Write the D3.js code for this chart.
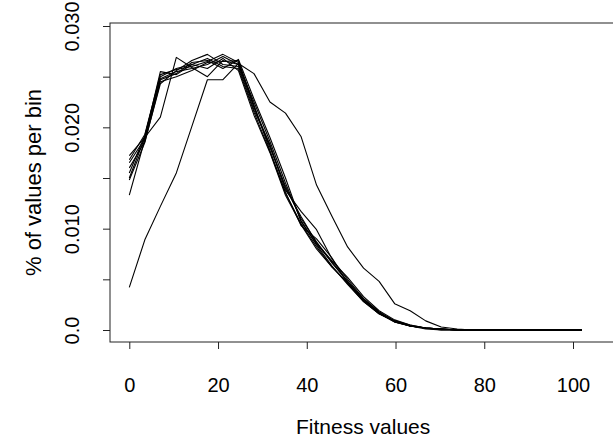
<!DOCTYPE html>
<html>
<head>
<meta charset="utf-8">
<script src="https://cdn.jsdelivr.net/npm/d3@7"></script>
<style>
  body { margin: 0; background: #fff; }
  svg text { font-family: "Liberation Sans", Arial, sans-serif; fill: #000; }
</style>
</head>
<body>
<div class="container"></div>
<script>
// ----- DATA -----
const bins = [0, 3.5, 7.0, 10.6, 14.1, 17.6, 21.1, 24.6, 28.1, 31.7, 35.2, 38.7, 42.2, 45.7, 49.2,
  52.8, 56.3, 59.8, 63.3, 66.8, 70.3, 73.9, 77.4, 80.9, 84.4, 87.9, 91.4, 95.0, 98.5, 102.0];

const run1 = [0.0172, 0.0190, 0.0210, 0.0269, 0.0259, 0.0250, 0.0266, 0.0262, 0.0220, 0.0180, 0.0142, 0.0110, 0.0087, 0.0066, 0.0048, 0.0030, 0.0017, 0.0009, 0.0004, 0.0002, 0.0001, 0, 0, 0, 0, 0, 0, 0, 0, 0];
const run2 = [0.0150, 0.0190, 0.0255, 0.0252, 0.0262, 0.0268, 0.0260, 0.0258, 0.0215, 0.0176, 0.0135, 0.0105, 0.0082, 0.0062, 0.0046, 0.0029, 0.0016, 0.0008, 0.0004, 0.0002, 0.0001, 0, 0, 0, 0, 0, 0, 0, 0, 0];
const run3 = [0.0133, 0.0188, 0.0248, 0.0255, 0.0258, 0.0262, 0.0270, 0.0262, 0.0225, 0.0186, 0.0145, 0.0108, 0.0084, 0.0063, 0.0045, 0.0028, 0.0016, 0.0009, 0.0004, 0.0002, 0.0001, 0, 0, 0, 0, 0, 0, 0, 0, 0];
const run4 = [0.0148, 0.0185, 0.0245, 0.0250, 0.0256, 0.0264, 0.0265, 0.0266, 0.0220, 0.0182, 0.0138, 0.0117, 0.0099, 0.0070, 0.0050, 0.0031, 0.0018, 0.0009, 0.0004, 0.0002, 0.0001, 0, 0, 0, 0, 0, 0, 0, 0, 0];
const run5 = [0.0155, 0.0192, 0.0250, 0.0258, 0.0262, 0.0258, 0.0268, 0.0256, 0.0212, 0.0175, 0.0133, 0.0104, 0.0080, 0.0062, 0.0047, 0.0031, 0.0017, 0.0008, 0.0004, 0.0002, 0, 0, 0, 0, 0, 0, 0, 0, 0, 0];
const run6 = [0.0160, 0.0186, 0.0243, 0.0256, 0.0266, 0.0272, 0.0262, 0.0260, 0.0217, 0.0183, 0.0140, 0.0112, 0.0086, 0.0068, 0.0052, 0.0033, 0.0019, 0.0010, 0.0005, 0.0002, 0.0001, 0, 0, 0, 0, 0, 0, 0, 0, 0];
const run7 = [0.0165, 0.0189, 0.0247, 0.0253, 0.0264, 0.0266, 0.0258, 0.0267, 0.0228, 0.0190, 0.0150, 0.0107, 0.0085, 0.0067, 0.0048, 0.0029, 0.0017, 0.0008, 0.0004, 0.0001, 0, 0, 0, 0, 0, 0, 0, 0, 0, 0];
const run8 = [0.0168, 0.0193, 0.0252, 0.0257, 0.0260, 0.0265, 0.0272, 0.0264, 0.0222, 0.0177, 0.0136, 0.0103, 0.0090, 0.0071, 0.0046, 0.0028, 0.0016, 0.0009, 0.0005, 0.0002, 0.0001, 0, 0, 0, 0, 0, 0, 0, 0, 0];
const run9 = [0.0042, 0.0089, 0.0122, 0.0155, 0.0201, 0.0247, 0.0247, 0.0263, 0.0253, 0.0225, 0.0214, 0.0191, 0.0143, 0.0112, 0.0082, 0.0061, 0.0048, 0.0026, 0.0019, 0.0009, 0.0003, 0.0001, 0, 0, 0, 0, 0, 0, 0, 0];

const runs = [run1, run2, run3, run4, run5, run6, run7, run8, run9];

const xTicks = [0, 20, 40, 60, 80, 100];
const yTicks = [0, 0.005, 0.010, 0.015, 0.020, 0.025, 0.030];
const yTickLabels = ["0.0", "", "0.010", "", "0.020", "", "0.030"];

const xTitle = "Fitness values";
const yTitle = "% of values per bin";

// ----- SIZES -----
const w = 613;
const h = 442;
const box = { left: 110, top: 23, right: 640, bottom: 342 };

// ----- SCALES -----
const xScale = d3.scaleLinear().domain([0, 100]).range([129.3, 573]);
const yScale = d3.scaleLinear().domain([0, 0.030]).range([330, 26]);

const svg = d3.select(".container")
  .append("svg")
  .attr("width", w)
  .attr("height", h);

// ----- LINES -----
const line = d3.line()
  .x((d, i) => xScale(bins[i]))
  .y(d => yScale(d));

svg.selectAll("path.run")
  .data(runs)
  .enter()
  .append("path")
  .attr("class", "run")
  .attr("d", line)
  .attr("fill", "none")
  .attr("stroke", "#000")
  .attr("stroke-width", 1.1)
  .attr("stroke-linejoin", "round");

// ----- BOX -----
svg.append("rect")
  .attr("x", box.left)
  .attr("y", box.top)
  .attr("width", box.right - box.left)
  .attr("height", box.bottom - box.top)
  .attr("fill", "none")
  .attr("stroke", "#222")
  .attr("stroke-width", 1);

// ----- AXES -----
const xAxis = d3.axisBottom(xScale)
  .tickValues(xTicks)
  .tickSize(7)
  .tickPadding(29)
  .tickFormat(d3.format("d"));

const gx = svg.append("g")
  .attr("transform", "translate(0," + box.bottom + ")")
  .call(xAxis);
gx.select(".domain").remove();

const yAxis = d3.axisLeft(yScale)
  .tickValues(yTicks)
  .tickSize(7)
  .tickPadding(0)
  .tickFormat((d, i) => yTickLabels[i]);

const gy = svg.append("g")
  .attr("transform", "translate(" + box.left + ",0)")
  .call(yAxis);
gy.select(".domain").remove();

svg.selectAll(".tick line").attr("stroke", "#222");
svg.selectAll(".tick text")
  .style("font-size", "20px")
  .style("font-family", "'Liberation Sans', Arial, sans-serif");

// rotate y tick labels like R does
gy.selectAll(".tick text")
  .attr("x", null)
  .attr("dy", null)
  .attr("text-anchor", "middle")
  .attr("transform", "translate(-31,0) rotate(-90)");

// ----- TITLES -----
svg.append("text")
  .attr("x", xScale(50) + 12)
  .attr("y", 434)
  .attr("text-anchor", "middle")
  .style("font-size", "21px")
  .text(xTitle);

svg.append("text")
  .attr("transform", "translate(41," + ((box.top + box.bottom) / 2) + ") rotate(-90)")
  .attr("text-anchor", "middle")
  .style("font-size", "22px")
  .text(yTitle);
</script>
</body>
</html>
